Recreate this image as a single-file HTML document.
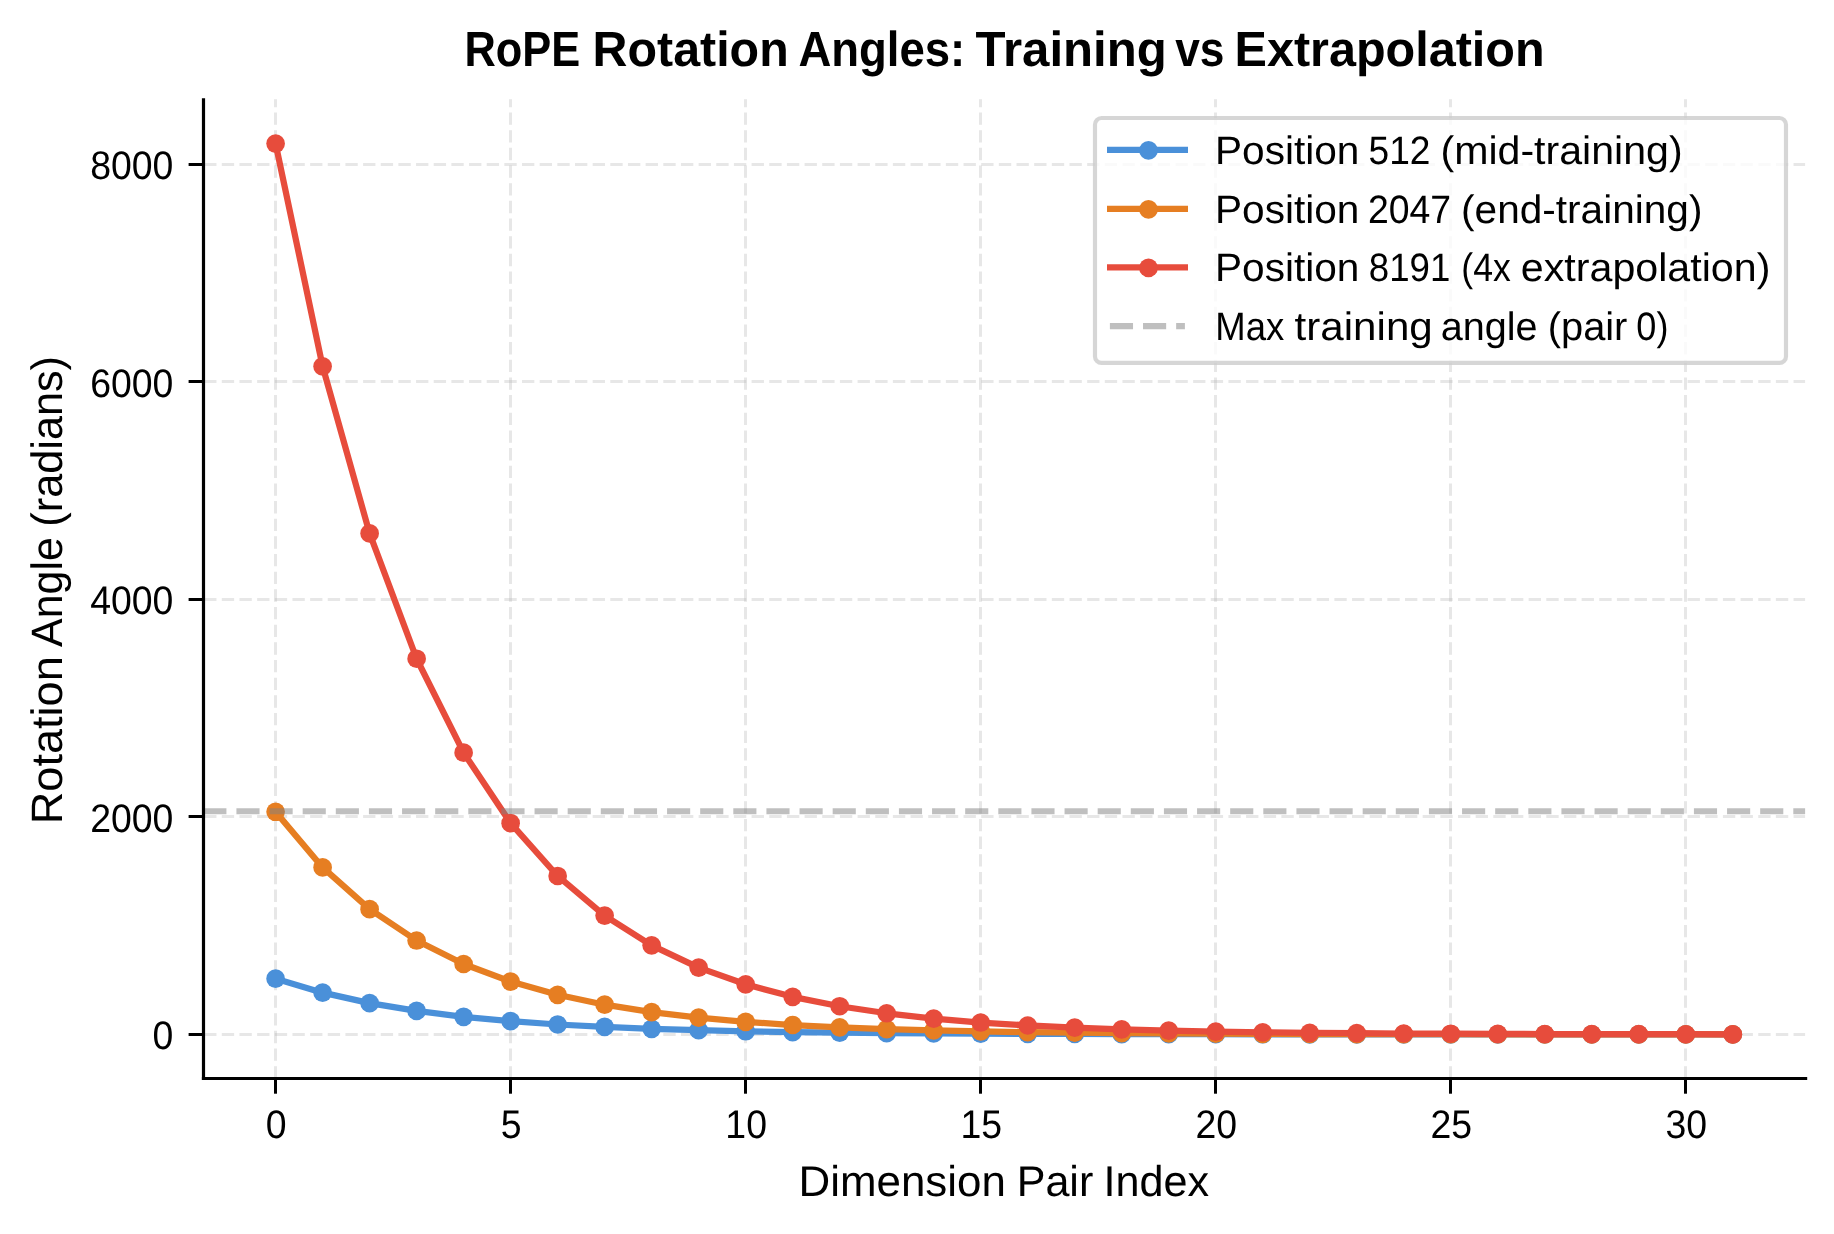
<!DOCTYPE html>
<html><head><meta charset="utf-8"><title>RoPE Rotation Angles</title>
<style>html,body{margin:0;padding:0;background:#fff;}body{width:1834px;height:1234px;overflow:hidden;font-family:"Liberation Sans",sans-serif;}svg{display:block;will-change:transform;}</style>
</head><body>
<svg width="1834" height="1234" viewBox="0 0 1834 1234" font-family="Liberation Sans, sans-serif">
<style>text{text-rendering:geometricPrecision}</style>
<rect width="1834" height="1234" fill="#ffffff"/>
<path d="M275.5 1078.5V99.3" stroke="#b0b0b0" stroke-opacity="0.3" stroke-width="3.0" stroke-dasharray="12.33 5.33" fill="none"/>
<path d="M510.5 1078.5V99.3" stroke="#b0b0b0" stroke-opacity="0.3" stroke-width="3.0" stroke-dasharray="12.33 5.33" fill="none"/>
<path d="M745.5 1078.5V99.3" stroke="#b0b0b0" stroke-opacity="0.3" stroke-width="3.0" stroke-dasharray="12.33 5.33" fill="none"/>
<path d="M980.5 1078.5V99.3" stroke="#b0b0b0" stroke-opacity="0.3" stroke-width="3.0" stroke-dasharray="12.33 5.33" fill="none"/>
<path d="M1215.5 1078.5V99.3" stroke="#b0b0b0" stroke-opacity="0.3" stroke-width="3.0" stroke-dasharray="12.33 5.33" fill="none"/>
<path d="M1450.5 1078.5V99.3" stroke="#b0b0b0" stroke-opacity="0.3" stroke-width="3.0" stroke-dasharray="12.33 5.33" fill="none"/>
<path d="M1685.5 1078.5V99.3" stroke="#b0b0b0" stroke-opacity="0.3" stroke-width="3.0" stroke-dasharray="12.33 5.33" fill="none"/>
<path d="M204.15 1034.5H1805.1" stroke="#b0b0b0" stroke-opacity="0.3" stroke-width="3.0" stroke-dasharray="12.33 5.33" fill="none"/>
<path d="M204.15 816.5H1805.1" stroke="#b0b0b0" stroke-opacity="0.3" stroke-width="3.0" stroke-dasharray="12.33 5.33" fill="none"/>
<path d="M204.15 599.5H1805.1" stroke="#b0b0b0" stroke-opacity="0.3" stroke-width="3.0" stroke-dasharray="12.33 5.33" fill="none"/>
<path d="M204.15 381.5H1805.1" stroke="#b0b0b0" stroke-opacity="0.3" stroke-width="3.0" stroke-dasharray="12.33 5.33" fill="none"/>
<path d="M204.15 164.5H1805.1" stroke="#b0b0b0" stroke-opacity="0.3" stroke-width="3.0" stroke-dasharray="12.33 5.33" fill="none"/>
<path d="M275.60 978.71 L322.61 992.64 L369.61 1003.09 L416.62 1010.92 L463.62 1016.79 L510.63 1021.19 L557.64 1024.50 L604.64 1026.97 L651.65 1028.83 L698.65 1030.22 L745.66 1031.27 L792.67 1032.05 L839.67 1032.64 L886.68 1033.08 L933.68 1033.41 L980.69 1033.66 L1027.70 1033.84 L1074.70 1033.98 L1121.71 1034.09 L1168.71 1034.17 L1215.72 1034.22 L1262.73 1034.27 L1309.73 1034.30 L1356.74 1034.33 L1403.74 1034.34 L1450.75 1034.36 L1497.76 1034.37 L1544.76 1034.38 L1591.77 1034.38 L1638.77 1034.39 L1685.78 1034.39 L1732.79 1034.39" stroke="#4a90d9" stroke-width="6.25" fill="none" stroke-linejoin="round" stroke-linecap="square"/>
<circle cx="275.60" cy="978.71" r="9.35" fill="#4a90d9"/>
<circle cx="322.61" cy="992.64" r="9.35" fill="#4a90d9"/>
<circle cx="369.61" cy="1003.09" r="9.35" fill="#4a90d9"/>
<circle cx="416.62" cy="1010.92" r="9.35" fill="#4a90d9"/>
<circle cx="463.62" cy="1016.79" r="9.35" fill="#4a90d9"/>
<circle cx="510.63" cy="1021.19" r="9.35" fill="#4a90d9"/>
<circle cx="557.64" cy="1024.50" r="9.35" fill="#4a90d9"/>
<circle cx="604.64" cy="1026.97" r="9.35" fill="#4a90d9"/>
<circle cx="651.65" cy="1028.83" r="9.35" fill="#4a90d9"/>
<circle cx="698.65" cy="1030.22" r="9.35" fill="#4a90d9"/>
<circle cx="745.66" cy="1031.27" r="9.35" fill="#4a90d9"/>
<circle cx="792.67" cy="1032.05" r="9.35" fill="#4a90d9"/>
<circle cx="839.67" cy="1032.64" r="9.35" fill="#4a90d9"/>
<circle cx="886.68" cy="1033.08" r="9.35" fill="#4a90d9"/>
<circle cx="933.68" cy="1033.41" r="9.35" fill="#4a90d9"/>
<circle cx="980.69" cy="1033.66" r="9.35" fill="#4a90d9"/>
<circle cx="1027.70" cy="1033.84" r="9.35" fill="#4a90d9"/>
<circle cx="1074.70" cy="1033.98" r="9.35" fill="#4a90d9"/>
<circle cx="1121.71" cy="1034.09" r="9.35" fill="#4a90d9"/>
<circle cx="1168.71" cy="1034.17" r="9.35" fill="#4a90d9"/>
<circle cx="1215.72" cy="1034.22" r="9.35" fill="#4a90d9"/>
<circle cx="1262.73" cy="1034.27" r="9.35" fill="#4a90d9"/>
<circle cx="1309.73" cy="1034.30" r="9.35" fill="#4a90d9"/>
<circle cx="1356.74" cy="1034.33" r="9.35" fill="#4a90d9"/>
<circle cx="1403.74" cy="1034.34" r="9.35" fill="#4a90d9"/>
<circle cx="1450.75" cy="1034.36" r="9.35" fill="#4a90d9"/>
<circle cx="1497.76" cy="1034.37" r="9.35" fill="#4a90d9"/>
<circle cx="1544.76" cy="1034.38" r="9.35" fill="#4a90d9"/>
<circle cx="1591.77" cy="1034.38" r="9.35" fill="#4a90d9"/>
<circle cx="1638.77" cy="1034.39" r="9.35" fill="#4a90d9"/>
<circle cx="1685.78" cy="1034.39" r="9.35" fill="#4a90d9"/>
<circle cx="1732.79" cy="1034.39" r="9.35" fill="#4a90d9"/>
<path d="M275.60 811.77 L322.61 867.45 L369.61 909.20 L416.62 940.52 L463.62 964.00 L510.63 981.61 L557.64 994.81 L604.64 1004.71 L651.65 1012.14 L698.65 1017.70 L745.66 1021.88 L792.67 1025.01 L839.67 1027.36 L886.68 1029.12 L933.68 1030.44 L980.69 1031.43 L1027.70 1032.17 L1074.70 1032.73 L1121.71 1033.15 L1168.71 1033.46 L1215.72 1033.70 L1262.73 1033.87 L1309.73 1034.00 L1356.74 1034.10 L1403.74 1034.18 L1450.75 1034.23 L1497.76 1034.27 L1544.76 1034.31 L1591.77 1034.33 L1638.77 1034.35 L1685.78 1034.36 L1732.79 1034.37" stroke="#e67e22" stroke-width="6.25" fill="none" stroke-linejoin="round" stroke-linecap="square"/>
<circle cx="275.60" cy="811.77" r="9.35" fill="#e67e22"/>
<circle cx="322.61" cy="867.45" r="9.35" fill="#e67e22"/>
<circle cx="369.61" cy="909.20" r="9.35" fill="#e67e22"/>
<circle cx="416.62" cy="940.52" r="9.35" fill="#e67e22"/>
<circle cx="463.62" cy="964.00" r="9.35" fill="#e67e22"/>
<circle cx="510.63" cy="981.61" r="9.35" fill="#e67e22"/>
<circle cx="557.64" cy="994.81" r="9.35" fill="#e67e22"/>
<circle cx="604.64" cy="1004.71" r="9.35" fill="#e67e22"/>
<circle cx="651.65" cy="1012.14" r="9.35" fill="#e67e22"/>
<circle cx="698.65" cy="1017.70" r="9.35" fill="#e67e22"/>
<circle cx="745.66" cy="1021.88" r="9.35" fill="#e67e22"/>
<circle cx="792.67" cy="1025.01" r="9.35" fill="#e67e22"/>
<circle cx="839.67" cy="1027.36" r="9.35" fill="#e67e22"/>
<circle cx="886.68" cy="1029.12" r="9.35" fill="#e67e22"/>
<circle cx="933.68" cy="1030.44" r="9.35" fill="#e67e22"/>
<circle cx="980.69" cy="1031.43" r="9.35" fill="#e67e22"/>
<circle cx="1027.70" cy="1032.17" r="9.35" fill="#e67e22"/>
<circle cx="1074.70" cy="1032.73" r="9.35" fill="#e67e22"/>
<circle cx="1121.71" cy="1033.15" r="9.35" fill="#e67e22"/>
<circle cx="1168.71" cy="1033.46" r="9.35" fill="#e67e22"/>
<circle cx="1215.72" cy="1033.70" r="9.35" fill="#e67e22"/>
<circle cx="1262.73" cy="1033.87" r="9.35" fill="#e67e22"/>
<circle cx="1309.73" cy="1034.00" r="9.35" fill="#e67e22"/>
<circle cx="1356.74" cy="1034.10" r="9.35" fill="#e67e22"/>
<circle cx="1403.74" cy="1034.18" r="9.35" fill="#e67e22"/>
<circle cx="1450.75" cy="1034.23" r="9.35" fill="#e67e22"/>
<circle cx="1497.76" cy="1034.27" r="9.35" fill="#e67e22"/>
<circle cx="1544.76" cy="1034.31" r="9.35" fill="#e67e22"/>
<circle cx="1591.77" cy="1034.33" r="9.35" fill="#e67e22"/>
<circle cx="1638.77" cy="1034.35" r="9.35" fill="#e67e22"/>
<circle cx="1685.78" cy="1034.36" r="9.35" fill="#e67e22"/>
<circle cx="1732.79" cy="1034.37" r="9.35" fill="#e67e22"/>
<path d="M275.60 143.55 L322.61 366.35 L369.61 533.44 L416.62 658.73 L463.62 752.69 L510.63 823.15 L557.64 875.98 L604.64 915.60 L651.65 945.31 L698.65 967.60 L745.66 984.30 L792.67 996.83 L839.67 1006.23 L886.68 1013.27 L933.68 1018.56 L980.69 1022.52 L1027.70 1025.49 L1074.70 1027.72 L1121.71 1029.39 L1168.71 1030.64 L1215.72 1031.58 L1262.73 1032.29 L1309.73 1032.82 L1356.74 1033.21 L1403.74 1033.51 L1450.75 1033.73 L1497.76 1033.90 L1544.76 1034.02 L1591.77 1034.12 L1638.77 1034.19 L1685.78 1034.24 L1732.79 1034.28" stroke="#e74c3c" stroke-width="6.25" fill="none" stroke-linejoin="round" stroke-linecap="square"/>
<circle cx="275.60" cy="143.55" r="9.35" fill="#e74c3c"/>
<circle cx="322.61" cy="366.35" r="9.35" fill="#e74c3c"/>
<circle cx="369.61" cy="533.44" r="9.35" fill="#e74c3c"/>
<circle cx="416.62" cy="658.73" r="9.35" fill="#e74c3c"/>
<circle cx="463.62" cy="752.69" r="9.35" fill="#e74c3c"/>
<circle cx="510.63" cy="823.15" r="9.35" fill="#e74c3c"/>
<circle cx="557.64" cy="875.98" r="9.35" fill="#e74c3c"/>
<circle cx="604.64" cy="915.60" r="9.35" fill="#e74c3c"/>
<circle cx="651.65" cy="945.31" r="9.35" fill="#e74c3c"/>
<circle cx="698.65" cy="967.60" r="9.35" fill="#e74c3c"/>
<circle cx="745.66" cy="984.30" r="9.35" fill="#e74c3c"/>
<circle cx="792.67" cy="996.83" r="9.35" fill="#e74c3c"/>
<circle cx="839.67" cy="1006.23" r="9.35" fill="#e74c3c"/>
<circle cx="886.68" cy="1013.27" r="9.35" fill="#e74c3c"/>
<circle cx="933.68" cy="1018.56" r="9.35" fill="#e74c3c"/>
<circle cx="980.69" cy="1022.52" r="9.35" fill="#e74c3c"/>
<circle cx="1027.70" cy="1025.49" r="9.35" fill="#e74c3c"/>
<circle cx="1074.70" cy="1027.72" r="9.35" fill="#e74c3c"/>
<circle cx="1121.71" cy="1029.39" r="9.35" fill="#e74c3c"/>
<circle cx="1168.71" cy="1030.64" r="9.35" fill="#e74c3c"/>
<circle cx="1215.72" cy="1031.58" r="9.35" fill="#e74c3c"/>
<circle cx="1262.73" cy="1032.29" r="9.35" fill="#e74c3c"/>
<circle cx="1309.73" cy="1032.82" r="9.35" fill="#e74c3c"/>
<circle cx="1356.74" cy="1033.21" r="9.35" fill="#e74c3c"/>
<circle cx="1403.74" cy="1033.51" r="9.35" fill="#e74c3c"/>
<circle cx="1450.75" cy="1033.73" r="9.35" fill="#e74c3c"/>
<circle cx="1497.76" cy="1033.90" r="9.35" fill="#e74c3c"/>
<circle cx="1544.76" cy="1034.02" r="9.35" fill="#e74c3c"/>
<circle cx="1591.77" cy="1034.12" r="9.35" fill="#e74c3c"/>
<circle cx="1638.77" cy="1034.19" r="9.35" fill="#e74c3c"/>
<circle cx="1685.78" cy="1034.24" r="9.35" fill="#e74c3c"/>
<circle cx="1732.79" cy="1034.28" r="9.35" fill="#e74c3c"/>
<path d="M203.3 811.17H1805.1" stroke="#808080" stroke-opacity="0.5" stroke-width="6.0" stroke-dasharray="23.125 10" fill="none"/>
<path d="M203.5 98.3V1080.1" stroke="#000" stroke-width="3.2" fill="none"/>
<path d="M201.9 1078.5H1807.2" stroke="#000" stroke-width="3.2" fill="none"/>
<path d="M275.5 1078.5V1093.7" stroke="#000" stroke-width="3.0" fill="none"/>
<path d="M510.5 1078.5V1093.7" stroke="#000" stroke-width="3.0" fill="none"/>
<path d="M745.5 1078.5V1093.7" stroke="#000" stroke-width="3.0" fill="none"/>
<path d="M980.5 1078.5V1093.7" stroke="#000" stroke-width="3.0" fill="none"/>
<path d="M1215.5 1078.5V1093.7" stroke="#000" stroke-width="3.0" fill="none"/>
<path d="M1450.5 1078.5V1093.7" stroke="#000" stroke-width="3.0" fill="none"/>
<path d="M1685.5 1078.5V1093.7" stroke="#000" stroke-width="3.0" fill="none"/>
<path d="M188.6 1034.5H203.5" stroke="#000" stroke-width="3.0" fill="none"/>
<path d="M188.6 816.5H203.5" stroke="#000" stroke-width="3.0" fill="none"/>
<path d="M188.6 599.5H203.5" stroke="#000" stroke-width="3.0" fill="none"/>
<path d="M188.6 381.5H203.5" stroke="#000" stroke-width="3.0" fill="none"/>
<path d="M188.6 164.5H203.5" stroke="#000" stroke-width="3.0" fill="none"/>
<text transform="translate(276.10,1137.70) scale(0.9390,1)" font-size="39.83" text-anchor="middle">0</text>
<text transform="translate(511.13,1137.70) scale(0.9390,1)" font-size="39.83" text-anchor="middle">5</text>
<text transform="translate(746.16,1137.70) scale(0.9390,1)" font-size="39.83" text-anchor="middle">10</text>
<text transform="translate(981.19,1137.70) scale(0.9390,1)" font-size="39.83" text-anchor="middle">15</text>
<text transform="translate(1216.22,1137.70) scale(0.9390,1)" font-size="39.83" text-anchor="middle">20</text>
<text transform="translate(1451.25,1137.70) scale(0.9390,1)" font-size="39.83" text-anchor="middle">25</text>
<text transform="translate(1686.28,1137.70) scale(0.9390,1)" font-size="39.83" text-anchor="middle">30</text>
<text transform="translate(173.40,1049.30) scale(0.9390,1)" font-size="39.83" text-anchor="end">0</text>
<text transform="translate(173.40,831.78) scale(0.9390,1)" font-size="39.83" text-anchor="end">2000</text>
<text transform="translate(173.40,614.26) scale(0.9390,1)" font-size="39.83" text-anchor="end">4000</text>
<text transform="translate(173.40,396.74) scale(0.9390,1)" font-size="39.83" text-anchor="end">6000</text>
<text transform="translate(173.40,179.22) scale(0.9390,1)" font-size="39.83" text-anchor="end">8000</text>
<text transform="translate(464.39,66.00) scale(0.8809,1)" font-size="49.27" font-weight="bold" fill="#000">RoPE</text><text transform="translate(592.58,66.00) scale(0.9819,1)" font-size="49.27" font-weight="bold" fill="#000">Rotation</text><text transform="translate(798.39,66.00) scale(0.9236,1)" font-size="49.27" font-weight="bold" fill="#000">Angles:</text><text transform="translate(975.60,66.00) scale(0.9980,1)" font-size="49.27" font-weight="bold" fill="#000">Training</text><text transform="translate(1175.20,66.00) scale(0.8995,1)" font-size="49.27" font-weight="bold" fill="#000">vs</text><text transform="translate(1234.57,66.00) scale(0.9849,1)" font-size="49.27" font-weight="bold" fill="#000">Extrapolation</text>
<text transform="translate(798.47,1195.70) scale(1.0209,1)" font-size="43.02" fill="#000">Dimension</text><text transform="translate(1016.63,1195.70) scale(1.0022,1)" font-size="43.02" fill="#000">Pair</text><text transform="translate(1103.43,1195.70) scale(1.0041,1)" font-size="43.02" fill="#000">Index</text>
<g transform="translate(62.1,820.8) rotate(-90)"><text transform="translate(-3.43,0.00) scale(1.0279,1)" font-size="43.90" fill="#000">Rotation</text><text transform="translate(173.90,0.00) scale(0.9784,1)" font-size="43.90" fill="#000">Angle</text><text transform="translate(294.17,0.00) scale(0.9854,1)" font-size="43.90" fill="#000">(radians)</text></g>
<rect x="1095.0" y="118.0" width="691.0" height="244.9" rx="6.5" ry="6.5" fill="#fff" fill-opacity="0.8" stroke="#cccccc" stroke-opacity="0.8" stroke-width="4.17"/>
<path d="M1107 149.9H1188" stroke="#4a90d9" stroke-width="6.25" fill="none"/>
<circle cx="1148.5" cy="150.4" r="9.35" fill="#4a90d9"/>
<path d="M1107 208.9H1188" stroke="#e67e22" stroke-width="6.25" fill="none"/>
<circle cx="1148.5" cy="209.4" r="9.35" fill="#e67e22"/>
<path d="M1107 267.4H1188" stroke="#e74c3c" stroke-width="6.25" fill="none"/>
<circle cx="1148.5" cy="267.9" r="9.35" fill="#e74c3c"/>
<path d="M1109.9 326H1184.9" stroke="#808080" stroke-opacity="0.5" stroke-width="6.25" stroke-dasharray="23.125 10" fill="none"/>
<text transform="translate(1215.03,163.60) scale(1.0225,1)" font-size="39.68" fill="#000">Position</text><text transform="translate(1368.54,163.60) scale(0.9360,1)" font-size="39.68" fill="#000">512</text><text transform="translate(1440.47,163.60) scale(1.0361,1)" font-size="39.68" fill="#000">(mid-training)</text>
<text transform="translate(1215.03,222.60) scale(1.0225,1)" font-size="39.68" fill="#000">Position</text><text transform="translate(1367.95,222.60) scale(0.9422,1)" font-size="39.68" fill="#000">2047</text><text transform="translate(1461.10,222.60) scale(1.0229,1)" font-size="39.68" fill="#000">(end-training)</text>
<text transform="translate(1215.03,281.30) scale(1.0225,1)" font-size="39.68" fill="#000">Position</text><text transform="translate(1368.86,281.30) scale(0.9224,1)" font-size="39.68" fill="#000">8191</text><text transform="translate(1461.33,281.30) scale(0.8974,1)" font-size="39.68" fill="#000">(4x</text><text transform="translate(1520.81,281.30) scale(1.0382,1)" font-size="39.68" fill="#000">extrapolation)</text>
<text transform="translate(1215.35,339.70) scale(0.9198,1)" font-size="39.68" fill="#000">Max</text><text transform="translate(1294.60,339.70) scale(1.0616,1)" font-size="39.68" fill="#000">training</text><text transform="translate(1440.66,339.70) scale(0.9985,1)" font-size="39.68" fill="#000">angle</text><text transform="translate(1547.73,339.70) scale(1.0035,1)" font-size="39.68" fill="#000">(pair</text><text transform="translate(1636.37,339.70) scale(0.9097,1)" font-size="39.68" fill="#000">0)</text>
</svg>
</body></html>
